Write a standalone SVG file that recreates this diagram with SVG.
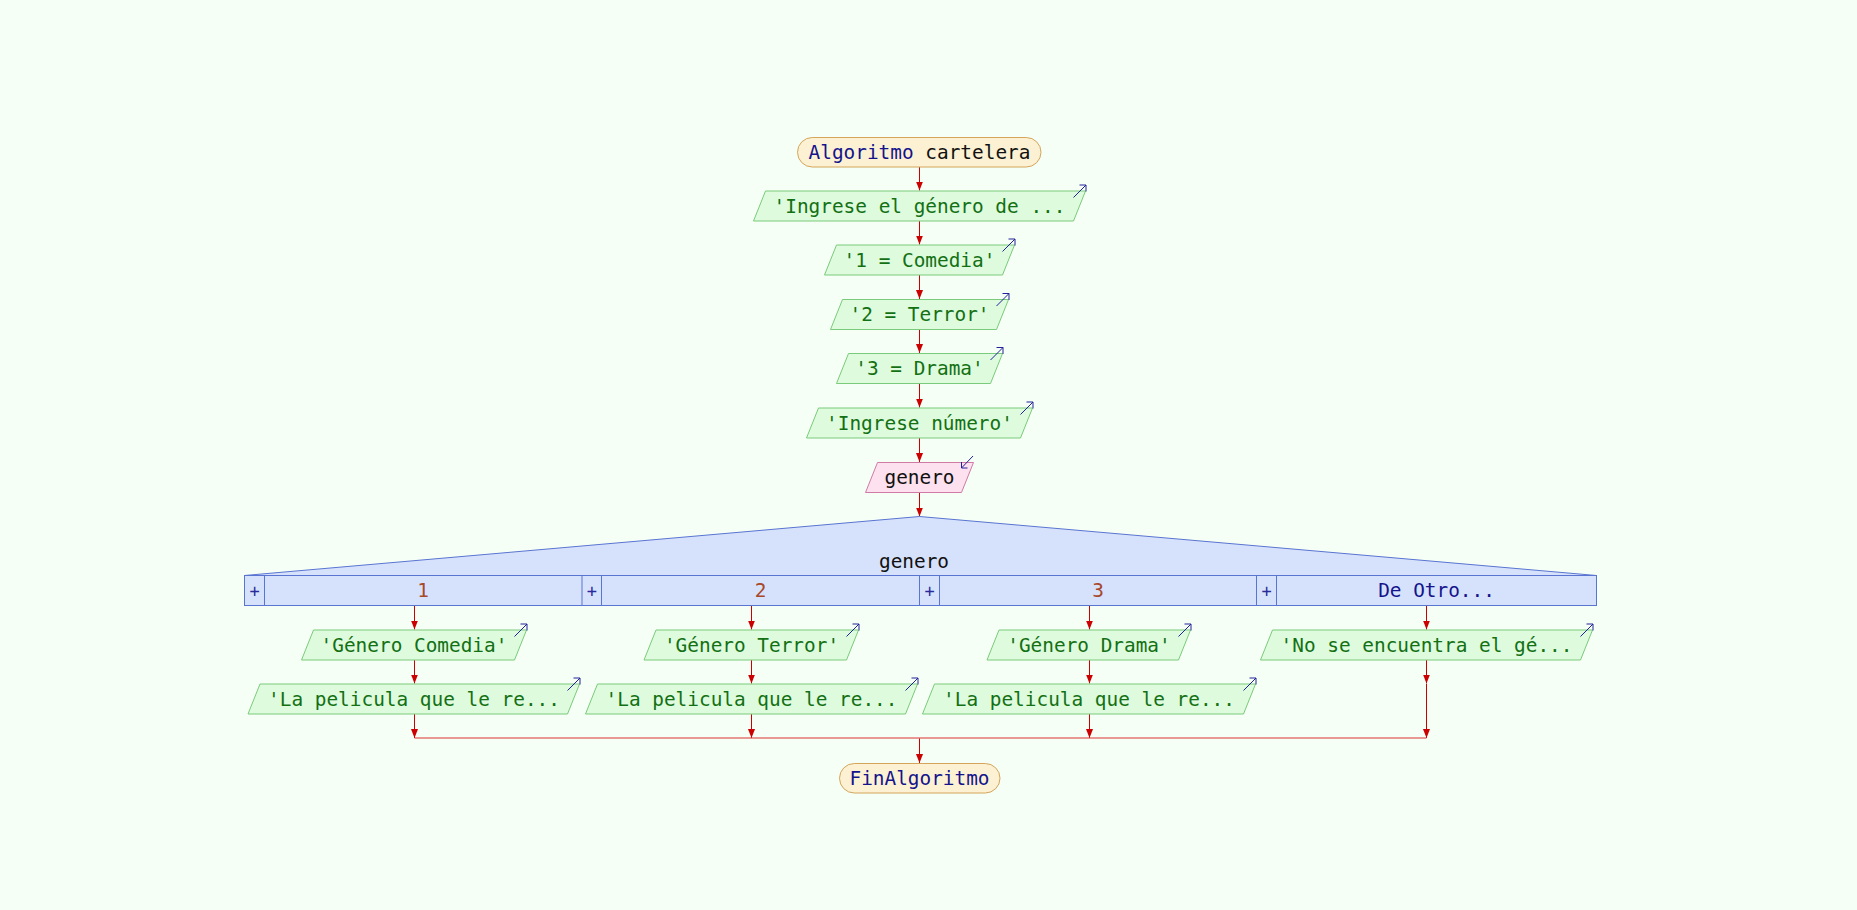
<svg xmlns="http://www.w3.org/2000/svg" width="1857" height="910" viewBox="0 0 1857 910">
<defs>
<style>
text{font-family:"DejaVu Sans Mono","Liberation Mono",monospace;font-size:19.4px;text-anchor:middle}
.term{fill:#fdf1d3;stroke:#d4a55a;stroke-width:1}
.out{fill:#defbde;stroke:#7acb7a;stroke-width:1}
.inp{fill:#fde1ee;stroke:#d07aa6;stroke-width:1}
.sw{fill:#d6e2fc;stroke:#5a74d2;stroke-width:1}
.plus{fill:#d6e2fc;stroke:#5a74d2;stroke-width:1}
.tout{fill:#137013}
.tkw{fill:#14148c}
.tblk{fill:#111111}
.tcase{fill:#a8482a}
.tplus{fill:#2a2a9a;font-size:17px}
.flow{stroke:#cc0000;stroke-width:1;fill:none}
.merge{stroke:#dd3030;stroke-width:1;fill:none}
.icon{stroke:#22229a;stroke-width:1;fill:none}
</style>
<marker id="ah" markerWidth="10" markerHeight="7" refX="9" refY="3.5" orient="auto" markerUnits="userSpaceOnUse">
<path d="M0,0 L9,3.5 L0,7 Z" fill="#cc0000"/>
</marker>
<path id="oicon" d="M-12,6.5 L0.5,-6 M-6,-6 L0.5,-6 L0.5,0.5" class="icon"/>
<path id="iicon" d="M-0.5,-6.5 L-12,5.5 M-12,-0.5 L-12,5.5 L-6,5.5" class="icon"/>
</defs>
<rect x="0" y="0" width="1857" height="910" fill="#f5fff5"/>

<g id="connectors">
<path class="flow" marker-end="url(#ah)" d="M919.5,167 V190.5"/>
<path class="flow" marker-end="url(#ah)" d="M919.5,221 V244.5"/>
<path class="flow" marker-end="url(#ah)" d="M919.5,275 V299"/>
<path class="flow" marker-end="url(#ah)" d="M919.5,329.5 V353"/>
<path class="flow" marker-end="url(#ah)" d="M919.5,383.5 V407.5"/>
<path class="flow" marker-end="url(#ah)" d="M919.5,438 V462"/>
<path class="flow" marker-end="url(#ah)" d="M919.5,492.5 V516.5"/>
<path class="flow" marker-end="url(#ah)" d="M414.5,605.5 V629.5"/>
<path class="flow" marker-end="url(#ah)" d="M414.5,660 V683.5"/>
<path class="flow" marker-end="url(#ah)" d="M414.5,714 V738"/>
<path class="flow" marker-end="url(#ah)" d="M751.5,605.5 V629.5"/>
<path class="flow" marker-end="url(#ah)" d="M751.5,660 V683.5"/>
<path class="flow" marker-end="url(#ah)" d="M751.5,714 V738"/>
<path class="flow" marker-end="url(#ah)" d="M1089.5,605.5 V629.5"/>
<path class="flow" marker-end="url(#ah)" d="M1089.5,660 V683.5"/>
<path class="flow" marker-end="url(#ah)" d="M1089.5,714 V738"/>
<path class="flow" marker-end="url(#ah)" d="M1426.5,605.5 V629.5"/>
<path class="flow" marker-end="url(#ah)" d="M1426.5,660 V683.5"/>
<path class="flow" marker-end="url(#ah)" d="M1426.5,684 V738"/>
<path class="merge" d="M414.5,738 H1426.5"/>
<path class="flow" marker-end="url(#ah)" d="M919.5,738.5 V763"/>
</g>

<g id="start">
<rect class="term" x="797.5" y="137.5" width="243.5" height="29.5" rx="14.75"/>
<text x="919.5" y="158.5"><tspan class="tkw">Algoritmo</tspan><tspan class="tblk"> cartelera</tspan></text>
</g>

<g id="out1">
<polygon class="out" points="765.5,191 1085.5,191 1073.5,221 753.5,221"/>
<text class="tout" x="919.5" y="212.5">'Ingrese el género de ...</text>
<use href="#oicon" x="1085.5" y="191"/>
</g>

<g id="out2">
<polygon class="out" points="836.5,245 1014.5,245 1002.5,275 824.5,275"/>
<text class="tout" x="919.5" y="266.5">'1 = Comedia'</text>
<use href="#oicon" x="1014.5" y="245"/>
</g>

<g id="out3">
<polygon class="out" points="842.5,299.5 1008.5,299.5 996.5,329.5 830.5,329.5"/>
<text class="tout" x="919.5" y="321">'2 = Terror'</text>
<use href="#oicon" x="1008.5" y="299.5"/>
</g>

<g id="out4">
<polygon class="out" points="848.5,353.5 1002.5,353.5 990.5,383.5 836.5,383.5"/>
<text class="tout" x="919.5" y="375">'3 = Drama'</text>
<use href="#oicon" x="1002.5" y="353.5"/>
</g>

<g id="out5">
<polygon class="out" points="818.5,408 1032.5,408 1020.5,438 806.5,438"/>
<text class="tout" x="919.5" y="429.5">'Ingrese número'</text>
<use href="#oicon" x="1032.5" y="408"/>
</g>

<g id="in1">
<polygon class="inp" points="877.5,462.5 973.5,462.5 961.5,492.5 865.5,492.5"/>
<text class="tblk" x="919.5" y="484">genero</text>
<use href="#iicon" x="973.5" y="462.5"/>
</g>

<g id="switch">
<polygon class="sw" points="244.5,575.5 919.5,516.5 1596.5,575.5"/>
<rect class="sw" x="244.5" y="575.5" width="1352" height="30"/>
<text class="tblk" x="914" y="568">genero</text>
<rect class="plus" x="244.5" y="575.5" width="20" height="30"/>
<rect class="plus" x="582" y="575.5" width="19.5" height="30"/>
<rect class="plus" x="919.5" y="575.5" width="20" height="30"/>
<rect class="plus" x="1256.5" y="575.5" width="20" height="30"/>
<text class="tplus" x="254.5" y="596.5">+</text>
<text class="tplus" x="591.75" y="596.5">+</text>
<text class="tplus" x="929.5" y="596.5">+</text>
<text class="tplus" x="1266.5" y="596.5">+</text>
<text class="tcase" x="423" y="597">1</text>
<text class="tcase" x="760.5" y="597">2</text>
<text class="tcase" x="1098" y="597">3</text>
<text class="tkw" x="1436.5" y="597">De Otro...</text>
</g>

<g id="c1a">
<polygon class="out" points="313.5,630 526.5,630 514.5,660 301.5,660"/>
<text class="tout" x="414" y="651.5">'Género Comedia'</text>
<use href="#oicon" x="526.5" y="630"/>
</g>
<g id="c1b">
<polygon class="out" points="260,684 579.5,684 567.5,714 248,714"/>
<text class="tout" x="414" y="705.5">'La pelicula que le re...</text>
<use href="#oicon" x="579.5" y="684"/>
</g>

<g id="c2a">
<polygon class="out" points="656,630 858.5,630 846.5,660 644,660"/>
<text class="tout" x="751.5" y="651.5">'Género Terror'</text>
<use href="#oicon" x="858.5" y="630"/>
</g>
<g id="c2b">
<polygon class="out" points="597.5,684 917.5,684 905.5,714 585.5,714"/>
<text class="tout" x="751.5" y="705.5">'La pelicula que le re...</text>
<use href="#oicon" x="917.5" y="684"/>
</g>

<g id="c3a">
<polygon class="out" points="999,630 1190.5,630 1178.5,660 987,660"/>
<text class="tout" x="1089" y="651.5">'Género Drama'</text>
<use href="#oicon" x="1190.5" y="630"/>
</g>
<g id="c3b">
<polygon class="out" points="934.5,684 1255.5,684 1243.5,714 922.5,714"/>
<text class="tout" x="1089" y="705.5">'La pelicula que le re...</text>
<use href="#oicon" x="1255.5" y="684"/>
</g>

<g id="c4a">
<polygon class="out" points="1272.5,630 1592.5,630 1580.5,660 1260.5,660"/>
<text class="tout" x="1426.5" y="651.5">'No se encuentra el gé...</text>
<use href="#oicon" x="1592.5" y="630"/>
</g>

<g id="end">
<rect class="term" x="839.5" y="763.5" width="160.5" height="29.5" rx="14.75"/>
<text class="tkw" x="919.5" y="785">FinAlgoritmo</text>
</g>
</svg>
